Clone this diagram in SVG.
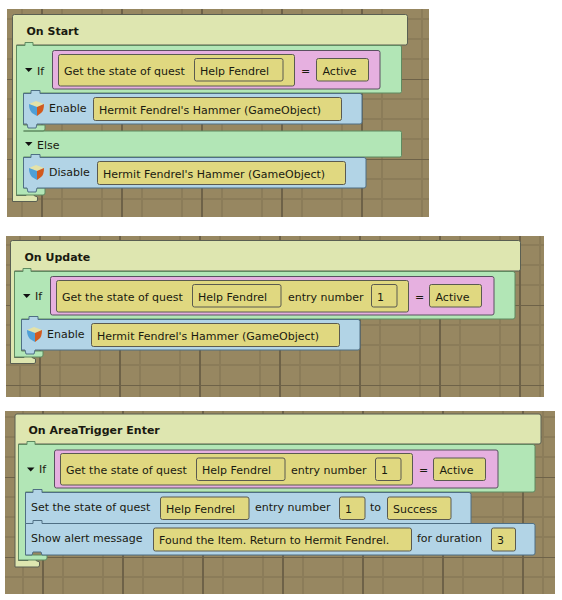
<svg xmlns="http://www.w3.org/2000/svg" width="562" height="600" viewBox="0 0 562 600">
<style>
text{font-family:"DejaVu Sans",Verdana,sans-serif;font-size:11px;fill:#1a1a10}
.h{font-weight:bold}
.ev{fill:#dee6b0;stroke:#5a5f52;stroke-width:1}
.gr{fill:#b2e6b6;stroke:#5f8a60;stroke-width:1}
.bl{fill:#b2d4e6;stroke:#4f6f84;stroke-width:1}
.pk{fill:#e6b0e0;stroke:#5a5060;stroke-width:1}
.ye{fill:#e0d880;stroke:#5a5a50;stroke-width:1}
.tri{fill:#111}
.c1{fill:#d06020}.c2{fill:#4a9ad0}.c3{fill:#e8e0a0}
.hl{fill:none;stroke:#c6e070;stroke-width:1}
.gl{fill:none;stroke:#a8d070;stroke-width:1}
</style>
<defs>
<pattern id="g1" width="80" height="80" patternUnits="userSpaceOnUse" patternTransform="translate(2 -1)">
<rect width="80" height="80" fill="#978761"/>
<path d="M20 0V80M40 0V80M60 0V80M0 20H80M0 40H80M0 60H80" stroke="#8b7c59" stroke-width="2"/>
<path d="M40 0V80M0 0H80" stroke="#6e6248" stroke-width="2" transform="translate(0 0)"/>
</pattern>
<pattern id="g2" width="80" height="80" patternUnits="userSpaceOnUse" patternTransform="translate(0 -15)">
<rect width="80" height="80" fill="#978761"/>
<path d="M20 0V80M40 0V80M60 0V80M0 20H80M0 40H80M0 60H80" stroke="#8b7c59" stroke-width="2"/>
<path d="M40 0V80M0 0H80" stroke="#6e6248" stroke-width="2"/>
</pattern>
<pattern id="g3" width="80" height="80" patternUnits="userSpaceOnUse" patternTransform="translate(3 -3)">
<rect width="80" height="80" fill="#978761"/>
<path d="M20 0V80M40 0V80M60 0V80M0 20H80M0 40H80M0 60H80" stroke="#8b7c59" stroke-width="2"/>
<path d="M40 0V80M0 0H80" stroke="#6e6248" stroke-width="2"/>
</pattern>
<g id="cube">
<path d="M0 3L7 0L15 3L8 6Z" fill="#e4e2a8"/>
<path d="M0 3L8 6V15L3 12Q0 9 0 3Z" fill="#4f9fd6"/>
<path d="M8 6L15 3Q15 10 12 12L8 15Z" fill="#d25a1e"/>
</g>
<path id="arrow" d="M0 0H7.5L3.7 4Z" class="tri"/>
</defs>

<g id="connectors"></g>

<g id="panel-start">
<rect x="7" y="9" width="422" height="208" fill="url(#g1)"/>
<g id="on-start">
<path class="ev" d="M14.5 14.5H405.500Q407.500 14.500 407.500 16.500V43Q407.500 45 405.500 45H16.500V195.500H26V193.500H34V195.500L37.500 197V200Q37.500 201.500 36 201.500H12.500V16.500Q12.500 14.500 14.500 14.500Z"/>
<text class="h" x="26.500" y="35">On Start</text>
</g>
<g id="if-1">
<path class="gr" d="M16.500 45.500H25V42.500H33V45.500H400Q401.500 45.500 401.500 47V91.500Q401.500 93 400 93H23.500V125H45V129Q45 131 43 131H23.500V131H400Q401.500 131 401.500 132.500V155.500Q401.500 157 400 157H23.500V188H45V193Q45 195 43 195H16.500Z"/>
<path class="pk" d="M54.500 50.500H378Q380 50.500 380 52.500V87Q380 89 378 89H54.500Q52.500 89 52.500 87V52.500Q52.500 50.500 54.500 50.500Z"/>
<path class="tri" d="M25 68H32.500L28.700 72Z"/>
<text x="37" y="75">If</text>
</g>
<g id="state-1">
<rect class="ye" x="58.500" y="54.500" width="236" height="31.500" rx="2"/>
<text x="64" y="75">Get the state of quest</text>
<rect class="ye" x="194.500" y="58.500" width="88.500" height="22.500" rx="2"/>
<text x="200" y="75">Help Fendrel</text>
<text x="301" y="75">=</text>
<rect class="ye" x="316.500" y="58.500" width="52" height="22.500" rx="2"/>
<text x="322.500" y="75">Active</text>
</g>
<g id="enable-1">
<path class="bl" d="M23.500 93.500H31V90.500H40V93.500H360Q362 93.500 362 95.500V122Q362 124 360 124H37L36 128H28L27 124H23.500Z"/>
<use href="#cube" x="29" y="101"/>
<text x="49" y="112">Enable</text>
<rect class="ye" x="93.500" y="97.500" width="248" height="23" rx="2"/>
<text x="99" y="114">Hermit Fendrel's Hammer (GameObject)</text>
</g>
<g id="else-1">
<path class="tri" d="M25 142H32.500L28.700 146Z"/>
<text x="37" y="149">Else</text>
</g>
<g id="disable-1">
<path class="bl" d="M23.500 157.500H31V154.500H40V157.500H364Q366 157.500 366 159.500V186Q366 188 364 188H37L36 192H28L27 188H23.500Z"/>
<use href="#cube" x="29" y="165"/>
<text x="49" y="176">Disable</text>
<rect class="ye" x="97.500" y="161.500" width="248" height="23" rx="2"/>
<text x="103" y="178">Hermit Fendrel's Hammer (GameObject)</text>
</g>
</g>

<g id="panel-update">
<rect x="6" y="236" width="538" height="161" fill="url(#g2)"/>
<g id="on-update">
<path class="ev" d="M12.500 240.500H518.500Q520.500 240.500 520.500 242.500V269Q520.500 271 518.500 271H14.500V357.500H24V355.500H32V357.500L35.500 359V362Q35.500 363.500 34 363.500H10.500V242.500Q10.500 240.500 12.500 240.500Z"/>
<text class="h" x="24.500" y="261">On Update</text>
</g>
<g id="if-2">
<path class="gr" d="M14.500 271.500H23V268.500H31V271.500H513Q515 271.500 515 273.500V317Q515 319 513 319H21.500V351H43V355Q43 357 41 357H14.500Z"/>
<rect class="pk" x="50.500" y="276.500" width="443.500" height="38.500" rx="2"/>
<path class="tri" d="M23 294H30.500L26.700 298Z"/>
<text x="35" y="300">If</text>
</g>
<g id="state-2">
<rect class="ye" x="56.500" y="280.500" width="352" height="31.500" rx="2"/>
<text x="62" y="301">Get the state of quest</text>
<rect class="ye" x="192.500" y="284.500" width="88.500" height="22.500" rx="2"/>
<text x="198" y="301">Help Fendrel</text>
<text x="288" y="301">entry number</text>
<rect class="ye" x="371.500" y="284.500" width="25.500" height="22.500" rx="2"/>
<text x="377" y="301">1</text>
<text x="415" y="301">=</text>
<rect class="ye" x="429.500" y="284.500" width="52" height="22.500" rx="2"/>
<text x="435.500" y="301">Active</text>
</g>
<g id="enable-2">
<path class="bl" d="M21.500 319.500H29V316.500H38V319.500H358Q360 319.500 360 321.500V348Q360 350 358 350H35L34 354H26L25 350H21.500Z"/>
<use href="#cube" x="27" y="327"/>
<text x="47" y="338">Enable</text>
<rect class="ye" x="91.500" y="323.500" width="248" height="23" rx="2"/>
<text x="97" y="340">Hermit Fendrel's Hammer (GameObject)</text>
</g>
</g>

<g id="panel-trigger">
<rect x="5" y="411" width="550" height="183" fill="url(#g3)"/>
<g id="on-trigger">
<path class="ev" d="M17 414H539Q541 414 541 416V442Q541 444 539 444H18.500V560.500H28V558.500H36V560.500L39.500 562V565Q39.500 567 38 567H15V416Q15 414 17 414Z"/>
<text class="h" x="28.500" y="434">On AreaTrigger Enter</text>
</g>
<g id="if-3">
<path class="gr" d="M18.500 444.500H27V441.500H35V444.500H533Q535 444.500 535 446.500V490Q535 492 533 492H25.500V555H47V558Q47 560 45 560H18.500Z"/>
<rect class="pk" x="54.500" y="450" width="443.500" height="38" rx="2"/>
<path class="tri" d="M27 467.500H34.500L30.700 471.500Z"/>
<text x="39" y="473">If</text>
</g>
<g id="state-3">
<rect class="ye" x="60.500" y="453.500" width="352" height="31.500" rx="2"/>
<text x="66" y="474">Get the state of quest</text>
<rect class="ye" x="196.500" y="458" width="88.500" height="22.500" rx="2"/>
<text x="202" y="474">Help Fendrel</text>
<text x="291" y="474">entry number</text>
<rect class="ye" x="375.500" y="458" width="25.500" height="22.500" rx="2"/>
<text x="381" y="474">1</text>
<text x="419" y="474">=</text>
<rect class="ye" x="433.500" y="458" width="52" height="22.500" rx="2"/>
<text x="439.500" y="474">Active</text>
</g>
<g id="set-state">
<path class="bl" d="M25.500 492.500H33V489.500H42V492.500H469Q471 492.500 471 494.500V523.500H25.500Z"/>
<text x="31" y="511">Set the state of quest</text>
<rect class="ye" x="160.500" y="497" width="88.500" height="22.500" rx="2"/>
<text x="166" y="513">Help Fendrel</text>
<text x="255" y="511">entry number</text>
<rect class="ye" x="339.500" y="497" width="25.500" height="22.500" rx="2"/>
<text x="345" y="513">1</text>
<text x="370" y="511">to</text>
<rect class="ye" x="387.500" y="497" width="63.500" height="22.500" rx="2"/>
<text x="393" y="513">Success</text>
</g>
<g id="show-alert">
<path class="bl" d="M25.500 523.500H33V520.500H42V523.500H533Q535 523.500 535 525.500V553Q535 555 533 555H42L41 552H33L32 555H25.500Z"/>
<text x="31" y="542">Show alert message</text>
<rect class="ye" x="153.500" y="528" width="258" height="23" rx="2"/>
<text x="159" y="544">Found the Item. Return to Hermit Fendrel.</text>
<text x="417" y="542">for duration</text>
<rect class="ye" x="491.500" y="528" width="24" height="23" rx="2"/>
<text x="497" y="544">3</text>
</g>
</g>
</svg>
